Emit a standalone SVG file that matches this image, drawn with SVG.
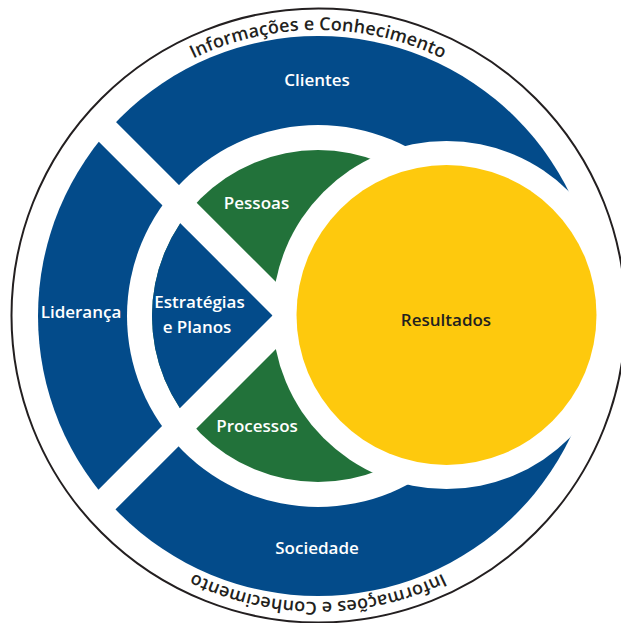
<svg xmlns="http://www.w3.org/2000/svg" width="621" height="623" viewBox="0 0 621 623">
<style>
.lbl{font-family:"Open Sans","Noto Sans","Liberation Sans",sans-serif;font-weight:600;font-size:17px;text-anchor:middle;fill:#fff}
.dark{fill:#231f20}
.arc{font-family:"Open Sans","Noto Sans","Liberation Sans",sans-serif;font-weight:600;font-size:18px;fill:#231f20;letter-spacing:0.1px}
.blue{fill:#034b8a}
.green{fill:#22723a}
</style>
<defs>
<clipPath id="innerClip"><circle cx="318" cy="316" r="166"/></clipPath>
<path id="topArc" d="M 32,316 A 286 286 0 0 1 604,316"/>
<path id="botArc" d="M 604,316 A 286 286 0 0 1 32,316"/>
</defs>
<rect width="621" height="623" fill="#fff"/>
<g id="outer-ring">
<circle class="blue" cx="318" cy="316" r="280"/>
<circle cx="318" cy="316" r="191" fill="#fff"/>
</g>
<g id="inner-disk">
<circle class="green" cx="318" cy="316" r="166"/>
<polygon class="blue" points="291,315.5 91,115.5 91,515.5" clip-path="url(#innerClip)"/>
</g>
<g id="dividers" stroke="#fff" stroke-width="26">
<line x1="291" y1="315.5" x2="70" y2="94.5"/>
<line x1="291" y1="315.5" x2="70" y2="536.5"/>
</g>
<g id="resultados">
<circle cx="446.5" cy="315" r="174" fill="#fff"/>
<circle cx="446.5" cy="315" r="150" fill="#fec90d"/>
<text class="lbl dark" x="446" y="326">Resultados</text>
</g>
<g id="clientes"><text class="lbl" x="317" y="86">Clientes</text></g>
<g id="lideranca"><text class="lbl" x="81" y="318">Liderança</text></g>
<g id="sociedade"><text class="lbl" x="317" y="554">Sociedade</text></g>
<g id="estrategias"><text class="lbl" x="199.5" y="308">Estratégias</text><text class="lbl" x="197" y="333">e Planos</text></g>
<g id="pessoas"><text class="lbl" x="256.5" y="209">Pessoas</text></g>
<g id="processos"><text class="lbl" x="257" y="432">Processos</text></g>
<g id="informacoes">
<circle cx="318.5" cy="315.5" r="307" fill="none" stroke="#231f20" stroke-width="2"/>
<text class="arc"><textPath href="#topArc" startOffset="50%" text-anchor="middle">Informações e Conhecimento</textPath></text>
<text class="arc"><textPath href="#botArc" startOffset="50%" text-anchor="middle">Informações e Conhecimento</textPath></text>
</g>
</svg>
